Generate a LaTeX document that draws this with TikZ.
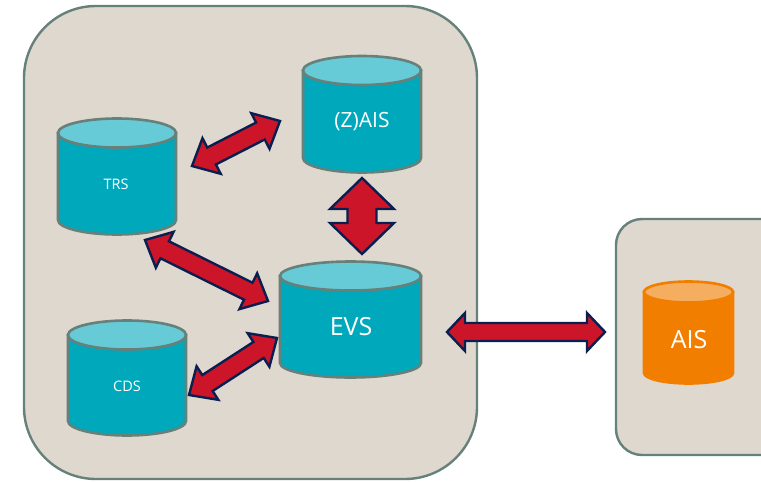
\documentclass[tikz,border=0pt]{standalone}
\usepackage{fontspec}
\setmainfont{Open Sans}
\usetikzlibrary{calc}
\definecolor{panel}{HTML}{DFD8CF}
\definecolor{panelline}{HTML}{66807A}
\definecolor{teal}{HTML}{00A8BC}
\definecolor{teallight}{HTML}{66CBD7}
\definecolor{orangebody}{HTML}{F27E00}
\definecolor{orangelight}{HTML}{F5AD5F}
\definecolor{arrowred}{HTML}{CC1528}
\definecolor{arrownavy}{HTML}{0A1E50}
\tikzset{
  panelbox/.style={fill=panel,draw=panelline,line width=2.4pt},
  dblabel/.style={text=white,inner sep=0pt,anchor=center},
  dblarrow/.style={fill=arrowred,draw=arrownavy,line width=2.4pt,line join=miter,miter limit=10},
}
% #1 name, #2 left, #3 right, #4 ellipse centre y, #5 ry, #6 side end y, #7 body, #8 top, #9 line
\newcommand\dbcyl[9]{%
  \pgfmathsetmacro\cylrx{(#3-#2)/2}%
  \pgfmathsetmacro\cylcx{(#2+#3)/2}%
  \path[fill=#7,draw=#9,line width=2.6pt] (#2,#4) -- (#2,#6)
     .. controls (#2,#6+#5*0.55) and (\cylcx-\cylrx*0.55,#6+#5) .. (\cylcx,#6+#5)
     .. controls (\cylcx+\cylrx*0.55,#6+#5) and (#3,#6+#5*0.55) .. (#3,#6)
     -- (#3,#4) -- cycle;
  \path[fill=#8,draw=#9,line width=2.6pt] (\cylcx,#4) ellipse[x radius=\cylrx pt,y radius=#5 pt];
  \coordinate (#1) at (\cylcx,{(#4+#6)/2+#5/2});
}
% #1 tip a, #2 tip b, #3 head half width, #4 shaft half width, #5 head length
\newcommand\arrowshape[5]{%
  \path[dblarrow] (#1)
    -- ($(#1)!#5pt!(#2)!#3pt!90:(#2)$)
    -- ($(#1)!#5pt!(#2)!#4pt!90:(#2)$)
    -- ($(#2)!#5pt!(#1)!#4pt!-90:(#1)$)
    -- ($(#2)!#5pt!(#1)!#3pt!-90:(#1)$)
    -- (#2)
    -- ($(#2)!#5pt!(#1)!#3pt!90:(#1)$)
    -- ($(#2)!#5pt!(#1)!#4pt!90:(#1)$)
    -- ($(#1)!#5pt!(#2)!#4pt!-90:(#2)$)
    -- ($(#1)!#5pt!(#2)!#3pt!-90:(#2)$)
    -- cycle;
}
\begin{document}
\begin{tikzpicture}[x=1pt,y=-1pt]
\clip (0,0) rectangle (761,482);
\fill[white] (0,0) rectangle (761,482);
\draw[panelbox,rounded corners=72pt] (24,6) rectangle (477,479);
\draw[panelbox,rounded corners=26pt] (616,219) rectangle (790,455);

\dbcyl{zais}{303}{421}{70.5}{14.5}{158}{teal}{teallight}{panelline}
\dbcyl{trs}{58}{176}{133}{14.5}{220}{teal}{teallight}{panelline}
\dbcyl{evs}{280}{421}{276}{14.5}{363}{teal}{teallight}{panelline}
\dbcyl{cds}{68}{186}{335}{14.5}{421}{teal}{teallight}{panelline}
\dbcyl{ais}{644}{733}{292}{10.5}{373}{orangebody}{orangelight}{orangebody}

\node[dblabel,font=\fontsize{21}{21}\selectfont] (zaislabel) at (362,122) {(Z)AIS};
\node[dblabel,font=\fontsize{14.5}{14.5}\selectfont] (trslabel) at (116,184) {TRS};
\node[dblabel,font=\fontsize{25}{25}\selectfont] (evslabel) at (351,327) {EVS};
\node[dblabel,font=\fontsize{14.5}{14.5}\selectfont] (cdslabel) at (127,386) {CDS};
\node[dblabel,font=\fontsize{25}{25}\selectfont] (aislabel) at (689,340) {AIS};

\coordinate (a1) at (280,121);
\coordinate (a2) at (192,166);
\coordinate (b1) at (362,178);
\coordinate (b2) at (362,254);
\coordinate (c1) at (145,240);
\coordinate (c2) at (268,301);
\coordinate (d1) at (277,338);
\coordinate (d2) at (189,395);
\coordinate (e1) at (447,332);
\coordinate (e2) at (605,332);
\arrowshape{a1}{a2}{20}{9.5}{22}
\arrowshape{b1}{b2}{32}{14.5}{31}
\arrowshape{c1}{c2}{20}{9.5}{22}
\arrowshape{d1}{d2}{20}{9.5}{22}
\arrowshape{e1}{e2}{19}{9}{18}
\end{tikzpicture}
\end{document}
